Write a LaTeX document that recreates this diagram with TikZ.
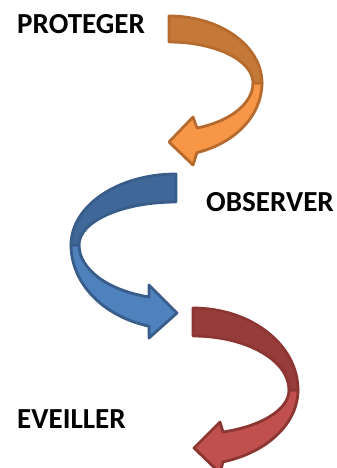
\documentclass[tikz,border=0pt]{standalone}
\usepackage{fontspec}
\setmainfont{Carlito}
\definecolor{orangeFront}{RGB}{247,150,70}
\definecolor{orangeBack}{RGB}{196,121,56}
\definecolor{orangeLine}{RGB}{182,106,46}
\definecolor{blueFront}{RGB}{79,129,189}
\definecolor{blueBack}{RGB}{63,103,151}
\definecolor{blueLine}{RGB}{56,93,138}
\definecolor{redFront}{RGB}{192,80,77}
\definecolor{redBack}{RGB}{150,60,58}
\definecolor{redLine}{RGB}{140,54,52}
\tikzset{%
	% Specifications for the ribbon parts and labels:
	ribbon/.style = {line width=2.4pt, line join=round},
	orangePart/.style = {ribbon, draw=orangeLine, fill=orange#1},
	bluePart/.style = {ribbon, draw=blueLine, fill=blue#1},
	redPart/.style = {ribbon, draw=redLine, fill=red#1},
	label/.style = {anchor=base west, inner sep=0pt, font=\bfseries\fontsize{24.8}{29}\selectfont},
}
\begin{document}
\begin{tikzpicture}[x=0.03cm, y=-0.03cm]
	\useasboundingbox (0,0) rectangle (337,468);
	
	% Orange arrow
	\draw[orangePart=Front] (262,83) arc[start angle=0, end angle=72.5, x radius=93, y radius=73]
		-- (193,165) -- (169,142) -- (193,117) -- (197,128)
		arc[start angle=70.5, end angle=0, x radius=84, y radius=47.7] -- cycle;
	\draw[orangePart=Back] (169,16) arc[start angle=-90, end angle=0, x radius=93, y radius=67]
		-- (253,83) arc[start angle=0, end angle=-90, x radius=84, y radius=41] -- cycle;
	
	% Blue arrow
	\draw[bluePart=Front] (71,245) arc[start angle=180, end angle=104.9, x radius=105, y radius=84]
		-- (149,338) -- (177,313) -- (149,285) -- (149,297)
		arc[start angle=106.2, end angle=180, x radius=97, y radius=54.2] -- cycle;
	\draw[bluePart=Back] (176,174) arc[start angle=-90, end angle=-180, x radius=105, y radius=71]
		-- (79,245) arc[start angle=180, end angle=270, x radius=97, y radius=43] -- cycle;
	
	% Red arrow
	\draw[redPart=Front] (298,390) arc[start angle=0, end angle=73.4, x radius=105, y radius=75]
		-- (220,473) -- (194,448) -- (220,422) -- (223,432)
		arc[start angle=71.8, end angle=0, x radius=96, y radius=44.2] -- cycle;
	\draw[redPart=Back] (193,308) arc[start angle=-90, end angle=0, x radius=105, y radius=82]
		-- (289,390) arc[start angle=0, end angle=-90, x radius=96, y radius=54] -- cycle;
	
	% Labels
	\node (proteger) [label] at (17,33) {PROTEGER};
	\node (observer) [label] at (206,211.5) {OBSERVER};
	\node (eveiller) [label] at (17,428) {EVEILLER};
	
\end{tikzpicture}
\end{document}
